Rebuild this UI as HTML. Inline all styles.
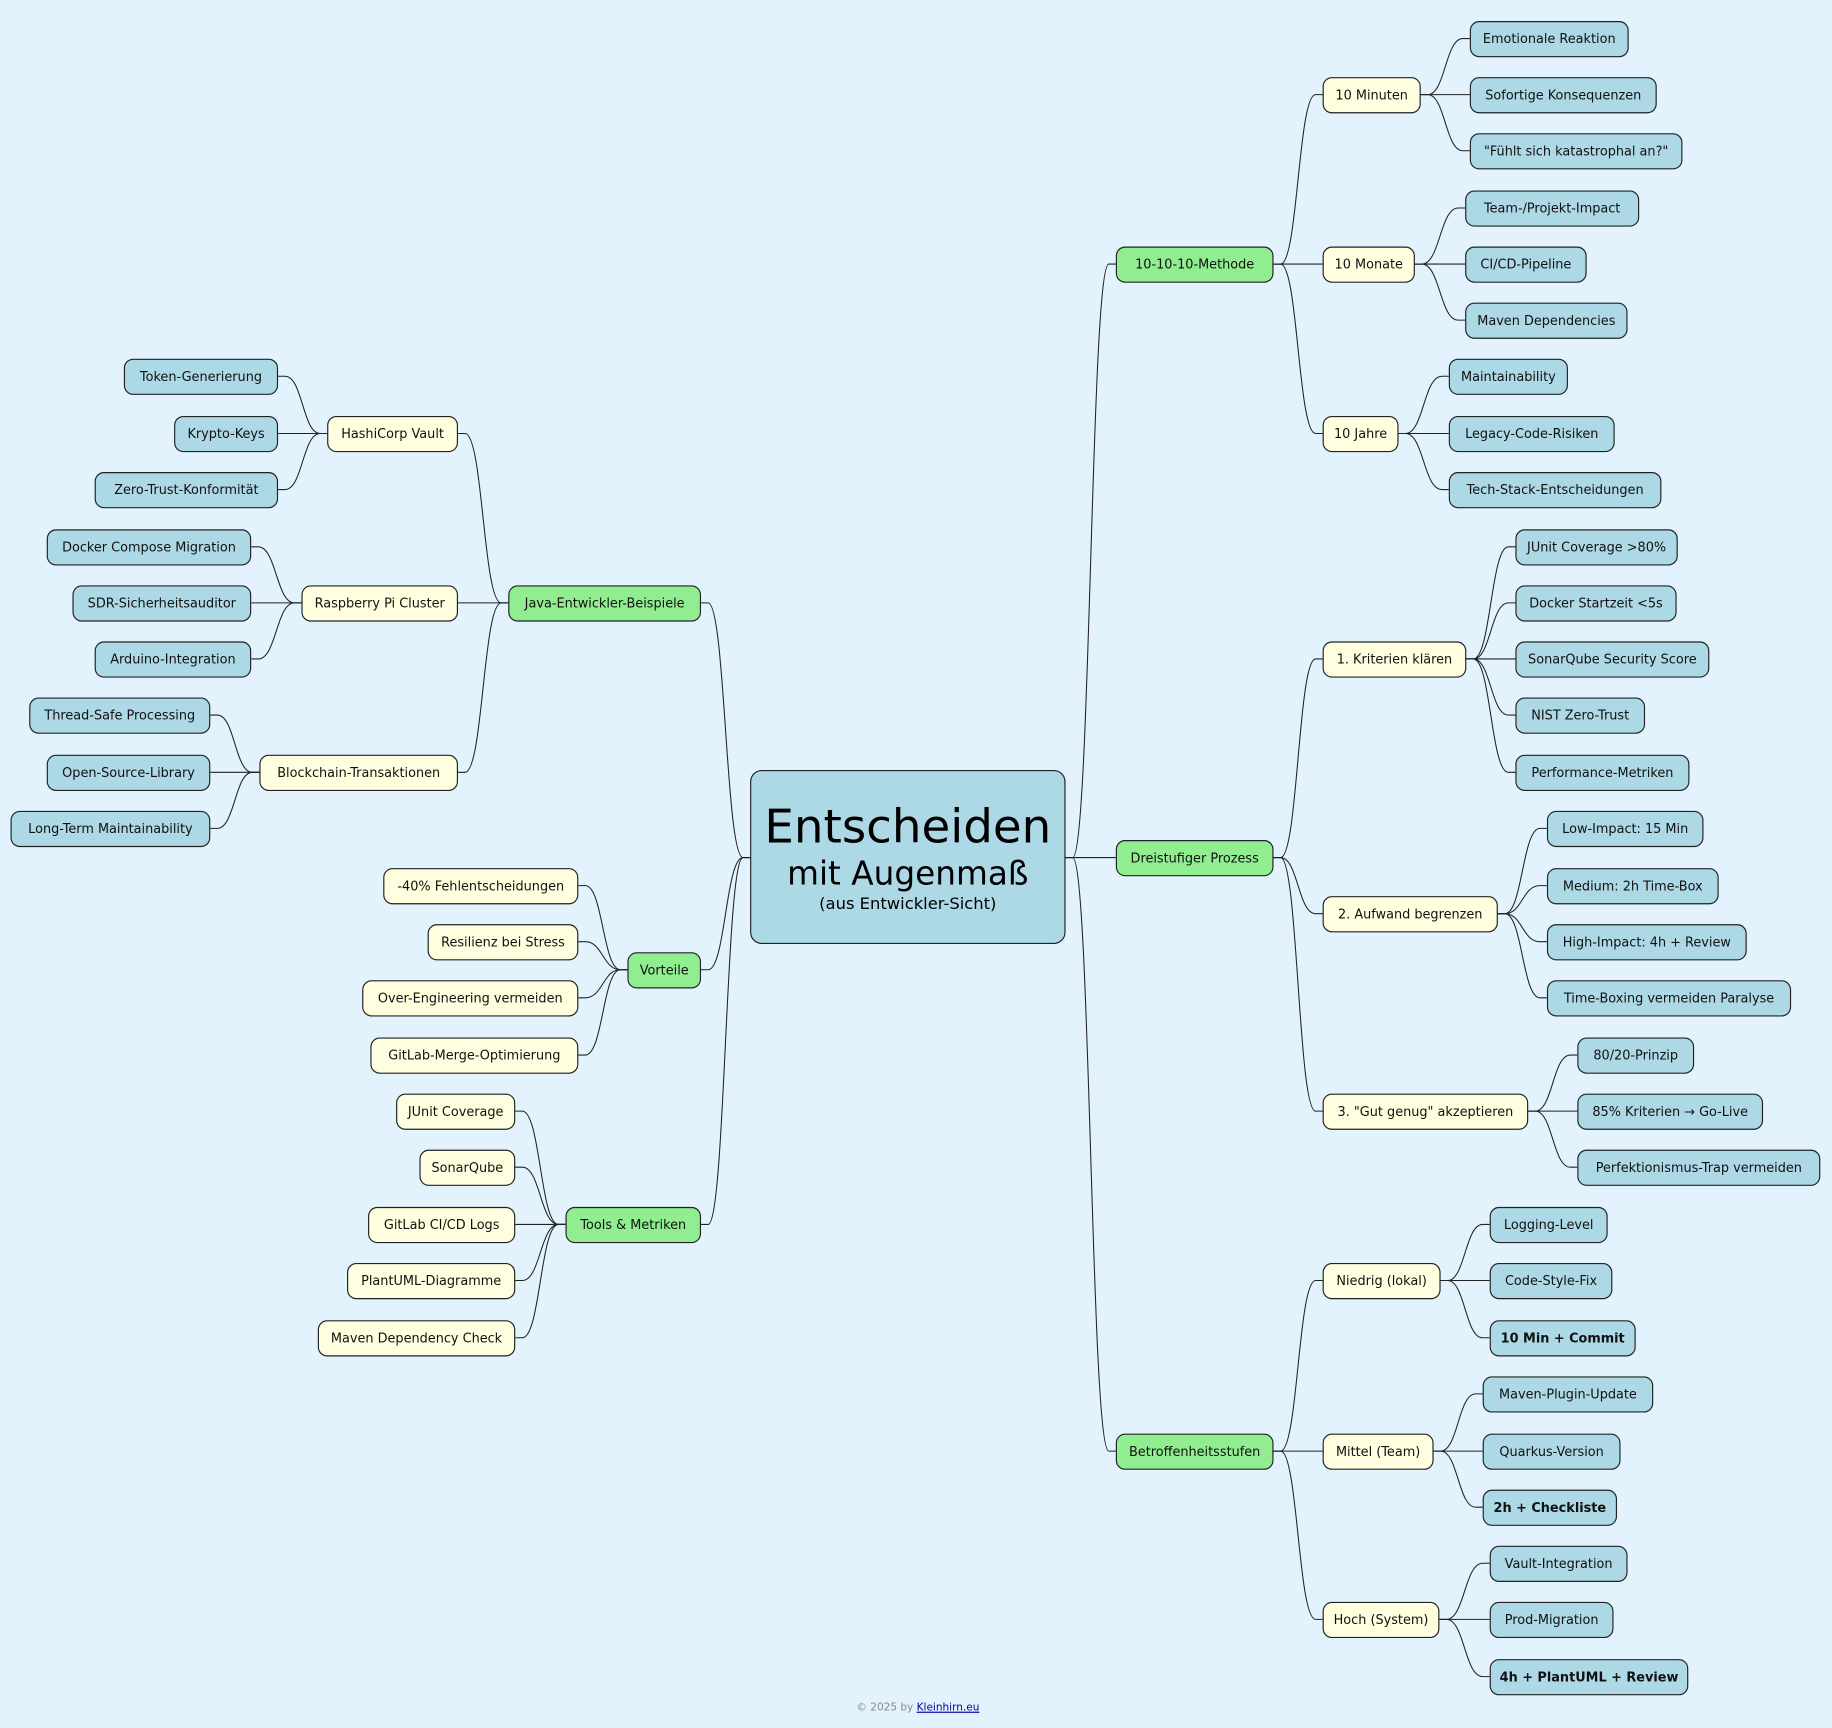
<!DOCTYPE html>
<html><head><meta charset="utf-8"><style>
html,body{margin:0;padding:0;background:#e2f3fd;width:1832px;height:1728px;overflow:hidden}
#c{position:absolute;left:0;top:0;width:1568px;height:1479px;transform:scale(1.16837);transform-origin:0 0}
.n{position:absolute;height:31px;border:1px solid #222;border-radius:8px;box-sizing:border-box;font:11px "DejaVu Sans",sans-serif;line-height:29px;text-align:center;white-space:nowrap;color:#111}
.g{background:#90ee90}.y{background:#ffffe0}.b{background:#add8e6}
.bold{font-weight:bold}
svg{position:absolute;left:0;top:0}
path{fill:none;stroke:#222;stroke-width:0.9}
#root{position:absolute;left:642px;top:659px;width:270px;height:149px;background:#add8e6;border:1px solid #222;border-radius:10px;box-sizing:border-box;text-align:center;font-family:"DejaVu Sans",sans-serif;color:#000}
#foot{position:absolute;left:733px;top:1457px;width:100px;font:9px "DejaVu Sans",sans-serif;color:#888;white-space:nowrap}
#foot span{color:#00a;text-decoration:underline}
</style></head><body><div id="c">
<svg width="1568" height="1479">
<path d="M912 734L918 734C933.5 734 933.5 226 949 226L955 226"/>
<path d="M912 734L955 734"/>
<path d="M912 734L918 734C933.5 734 933.5 1242 949 1242L955 1242"/>
<path d="M1090 226L1096 226C1111 226 1111 81 1126 81L1132 81"/>
<path d="M1090 226L1132 226"/>
<path d="M1090 226L1096 226C1111 226 1111 371 1126 371L1132 371"/>
<path d="M1216 81L1222 81C1237 81 1237 33 1252 33L1258 33"/>
<path d="M1216 81L1258 81"/>
<path d="M1216 81L1222 81C1237 81 1237 129 1252 129L1258 129"/>
<path d="M1211 226L1217 226C1232.5 226 1232.5 178 1248 178L1254 178"/>
<path d="M1211 226L1254 226"/>
<path d="M1211 226L1217 226C1232.5 226 1232.5 274 1248 274L1254 274"/>
<path d="M1197 371L1203 371C1218.5 371 1218.5 322 1234 322L1240 322"/>
<path d="M1197 371L1240 371"/>
<path d="M1197 371L1203 371C1218.5 371 1218.5 419 1234 419L1240 419"/>
<path d="M1090 734L1096 734C1111 734 1111 564 1126 564L1132 564"/>
<path d="M1090 734L1096 734C1111 734 1111 782 1126 782L1132 782"/>
<path d="M1090 734L1096 734C1111 734 1111 951 1126 951L1132 951"/>
<path d="M1255 564L1261 564C1276 564 1276 468 1291 468L1297 468"/>
<path d="M1255 564L1261 564C1276 564 1276 516 1291 516L1297 516"/>
<path d="M1255 564L1297 564"/>
<path d="M1255 564L1261 564C1276 564 1276 612 1291 612L1297 612"/>
<path d="M1255 564L1261 564C1276 564 1276 661 1291 661L1297 661"/>
<path d="M1282 782L1288 782C1303 782 1303 709 1318 709L1324 709"/>
<path d="M1282 782L1288 782C1303 782 1303 758 1318 758L1324 758"/>
<path d="M1282 782L1288 782C1303 782 1303 806 1318 806L1324 806"/>
<path d="M1282 782L1288 782C1303 782 1303 854 1318 854L1324 854"/>
<path d="M1308 951L1314 951C1329 951 1329 903 1344 903L1350 903"/>
<path d="M1308 951L1350 951"/>
<path d="M1308 951L1314 951C1329 951 1329 999 1344 999L1350 999"/>
<path d="M1090 1242L1096 1242C1111 1242 1111 1096 1126 1096L1132 1096"/>
<path d="M1090 1242L1132 1242"/>
<path d="M1090 1242L1096 1242C1111 1242 1111 1386 1126 1386L1132 1386"/>
<path d="M1233 1096L1239 1096C1254 1096 1254 1048 1269 1048L1275 1048"/>
<path d="M1233 1096L1275 1096"/>
<path d="M1233 1096L1239 1096C1254 1096 1254 1145 1269 1145L1275 1145"/>
<path d="M1227 1242L1233 1242C1248 1242 1248 1193 1263 1193L1269 1193"/>
<path d="M1227 1242L1269 1242"/>
<path d="M1227 1242L1233 1242C1248 1242 1248 1290 1263 1290L1269 1290"/>
<path d="M1232 1386L1238 1386C1253.5 1386 1253.5 1338 1269 1338L1275 1338"/>
<path d="M1232 1386L1275 1386"/>
<path d="M1232 1386L1238 1386C1253.5 1386 1253.5 1435 1269 1435L1275 1435"/>
<path d="M642 734L636 734C621 734 621 516 606 516L600 516"/>
<path d="M642 734L636 734C621 734 621 830 606 830L600 830"/>
<path d="M642 734L636 734C621 734 621 1048 606 1048L600 1048"/>
<path d="M435 516L429 516C413.5 516 413.5 371 398 371L392 371"/>
<path d="M435 516L392 516"/>
<path d="M435 516L429 516C413.5 516 413.5 661 398 661L392 661"/>
<path d="M280 371L274 371C259 371 259 322 244 322L238 322"/>
<path d="M280 371L238 371"/>
<path d="M280 371L274 371C259 371 259 419 244 419L238 419"/>
<path d="M258 516L252 516C236.5 516 236.5 468 221 468L215 468"/>
<path d="M258 516L215 516"/>
<path d="M258 516L252 516C236.5 516 236.5 564 221 564L215 564"/>
<path d="M222 661L216 661C201 661 201 612 186 612L180 612"/>
<path d="M222 661L180 661"/>
<path d="M222 661L216 661C201 661 201 709 186 709L180 709"/>
<path d="M537 830L531 830C516 830 516 758 501 758L495 758"/>
<path d="M537 830L531 830C516 830 516 806 501 806L495 806"/>
<path d="M537 830L531 830C516 830 516 854 501 854L495 854"/>
<path d="M537 830L531 830C516 830 516 903 501 903L495 903"/>
<path d="M484 1048L478 1048C462.5 1048 462.5 951 447 951L441 951"/>
<path d="M484 1048L478 1048C462.5 1048 462.5 999 447 999L441 999"/>
<path d="M484 1048L441 1048"/>
<path d="M484 1048L478 1048C462.5 1048 462.5 1096 447 1096L441 1096"/>
<path d="M484 1048L478 1048C462.5 1048 462.5 1145 447 1145L441 1145"/>
</svg>
<div id="root"><div style="font-size:40px;line-height:48px;margin-top:24px">Entscheiden</div><div style="font-size:28px;line-height:32px">mit Augenmaß</div><div style="font-size:14px;line-height:20px">(aus Entwickler-Sicht)</div></div>

<div class="n g" style="left:955px;top:211px;width:135px">10-10-10-Methode</div>
<div class="n g" style="left:955px;top:719px;width:135px">Dreistufiger Prozess</div>
<div class="n g" style="left:955px;top:1227px;width:135px">Betroffenheitsstufen</div>

<div class="n y" style="left:1132px;top:66px;width:84px">10 Minuten</div>
<div class="n y" style="left:1132px;top:211px;width:79px">10 Monate</div>
<div class="n y" style="left:1132px;top:356px;width:65px">10 Jahre</div>
<div class="n y" style="left:1132px;top:549px;width:123px">1. Kriterien klären</div>
<div class="n y" style="left:1132px;top:767px;width:150px">2. Aufwand begrenzen</div>
<div class="n y" style="left:1132px;top:936px;width:176px">3. "Gut genug" akzeptieren</div>
<div class="n y" style="left:1132px;top:1081px;width:101px">Niedrig (lokal)</div>
<div class="n y" style="left:1132px;top:1227px;width:95px">Mittel (Team)</div>
<div class="n y" style="left:1132px;top:1371px;width:100px">Hoch (System)</div>

<div class="n b" style="left:1258px;top:18px;width:136px">Emotionale Reaktion</div>
<div class="n b" style="left:1258px;top:66px;width:160px">Sofortige Konsequenzen</div>
<div class="n b" style="left:1258px;top:114px;width:182px">"Fühlt sich katastrophal an?"</div>
<div class="n b" style="left:1254px;top:163px;width:149px">Team-/Projekt-Impact</div>
<div class="n b" style="left:1254px;top:211px;width:104px">CI/CD-Pipeline</div>
<div class="n b" style="left:1254px;top:259px;width:139px">Maven Dependencies</div>
<div class="n b" style="left:1240px;top:307px;width:102px">Maintainability</div>
<div class="n b" style="left:1240px;top:356px;width:142px">Legacy-Code-Risiken</div>
<div class="n b" style="left:1240px;top:404px;width:182px">Tech-Stack-Entscheidungen</div>
<div class="n b" style="left:1297px;top:453px;width:139px">JUnit Coverage &gt;80%</div>
<div class="n b" style="left:1297px;top:501px;width:138px">Docker Startzeit &lt;5s</div>
<div class="n b" style="left:1297px;top:549px;width:166px">SonarQube Security Score</div>
<div class="n b" style="left:1297px;top:597px;width:111px">NIST Zero-Trust</div>
<div class="n b" style="left:1297px;top:646px;width:149px">Performance-Metriken</div>
<div class="n b" style="left:1324px;top:694px;width:134px">Low-Impact: 15 Min</div>
<div class="n b" style="left:1324px;top:743px;width:147px">Medium: 2h Time-Box</div>
<div class="n b" style="left:1324px;top:791px;width:171px">High-Impact: 4h + Review</div>
<div class="n b" style="left:1324px;top:839px;width:209px">Time-Boxing vermeiden Paralyse</div>
<div class="n b" style="left:1350px;top:888px;width:100px">80/20-Prinzip</div>
<div class="n b" style="left:1350px;top:936px;width:159px">85% Kriterien → Go-Live</div>
<div class="n b" style="left:1350px;top:984px;width:208px">Perfektionismus-Trap vermeiden</div>
<div class="n b" style="left:1275px;top:1033px;width:101px">Logging-Level</div>
<div class="n b" style="left:1275px;top:1081px;width:105px">Code-Style-Fix</div>
<div class="n b bold" style="left:1275px;top:1130px;width:125px">10 Min + Commit</div>
<div class="n b" style="left:1269px;top:1178px;width:146px">Maven-Plugin-Update</div>
<div class="n b" style="left:1269px;top:1227px;width:118px">Quarkus-Version</div>
<div class="n b bold" style="left:1269px;top:1275px;width:115px">2h + Checkliste</div>
<div class="n b" style="left:1275px;top:1323px;width:118px">Vault-Integration</div>
<div class="n b" style="left:1275px;top:1371px;width:106px">Prod-Migration</div>
<div class="n b bold" style="left:1275px;top:1420px;width:170px">4h + PlantUML + Review</div>

<div class="n g" style="left:435px;top:501px;width:165px">Java-Entwickler-Beispiele</div>
<div class="n g" style="left:537px;top:815px;width:63px">Vorteile</div>
<div class="n g" style="left:484px;top:1033px;width:116px">Tools &amp; Metriken</div>

<div class="n y" style="left:280px;top:356px;width:112px">HashiCorp Vault</div>
<div class="n y" style="left:258px;top:501px;width:134px">Raspberry Pi Cluster</div>
<div class="n y" style="left:222px;top:646px;width:170px">Blockchain-Transaktionen</div>

<div class="n b" style="left:106px;top:307px;width:132px">Token-Generierung</div>
<div class="n b" style="left:149px;top:356px;width:89px">Krypto-Keys</div>
<div class="n b" style="left:81px;top:404px;width:157px">Zero-Trust-Konformität</div>
<div class="n b" style="left:40px;top:453px;width:175px">Docker Compose Migration</div>
<div class="n b" style="left:62px;top:501px;width:153px">SDR-Sicherheitsauditor</div>
<div class="n b" style="left:81px;top:549px;width:134px">Arduino-Integration</div>
<div class="n b" style="left:25px;top:597px;width:155px">Thread-Safe Processing</div>
<div class="n b" style="left:40px;top:646px;width:140px">Open-Source-Library</div>
<div class="n b" style="left:9px;top:694px;width:171px">Long-Term Maintainability</div>

<div class="n y" style="left:328px;top:743px;width:167px">-40% Fehlentscheidungen</div>
<div class="n y" style="left:366px;top:791px;width:129px">Resilienz bei Stress</div>
<div class="n y" style="left:310px;top:839px;width:185px">Over-Engineering vermeiden</div>
<div class="n y" style="left:317px;top:888px;width:178px">GitLab-Merge-Optimierung</div>
<div class="n y" style="left:339px;top:936px;width:102px">JUnit Coverage</div>
<div class="n y" style="left:359px;top:984px;width:82px">SonarQube</div>
<div class="n y" style="left:315px;top:1033px;width:126px">GitLab CI/CD Logs</div>
<div class="n y" style="left:297px;top:1081px;width:144px">PlantUML-Diagramme</div>
<div class="n y" style="left:272px;top:1130px;width:169px">Maven Dependency Check</div>

<div id="foot">© 2025 by <span>Kleinhirn.eu</span></div>
</div></body></html>
